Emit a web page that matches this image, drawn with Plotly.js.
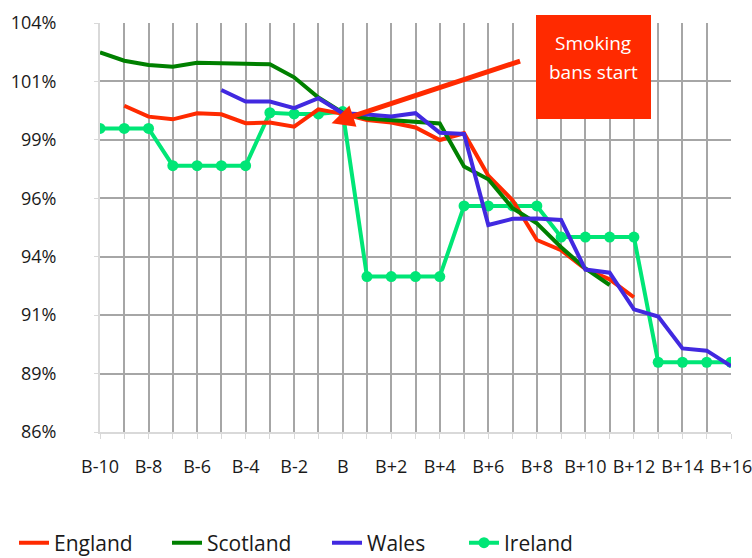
<!DOCTYPE html>
<html><head><meta charset="utf-8">
<script src="https://cdn.plot.ly/plotly-3.0.1.min.js"></script>
<style>html,body{margin:0;padding:0;background:#fff}#chart{width:752px;height:558px}</style>
</head><body><div id="chart"></div>
<script>
const categories = ["B-10","B-9","B-8","B-7","B-6","B-5","B-4","B-3","B-2","B-1","B",
  "B+1","B+2","B+3","B+4","B+5","B+6","B+7","B+8","B+9","B+10","B+11","B+12","B+13","B+14","B+15","B+16"];
const xTickText = ["B-10","","B-8","","B-6","","B-4","","B-2","","B",
  "","B+2","","B+4","","B+6","","B+8","","B+10","","B+12","","B+14","","B+16"];
const yTickVals = [86, 88.571, 91.143, 93.714, 96.286, 98.857, 101.429, 104];
const yTickText = ["86%","89%","91%","94%","96%","99%","101%","104%"];

const england = [null,100.36,99.88,99.76,100.03,99.98,99.59,99.62,99.44,100.2,100.0,
  99.73,99.62,99.4,98.85,99.15,97.28,96.2,94.45,94.0,93.17,92.72,91.93,null,null,null,null];
const scotland = [102.71,102.34,102.15,102.08,102.25,102.25,102.21,102.18,101.61,100.72,100.05,
  99.8,99.73,99.67,99.58,97.68,97.12,95.85,95.18,94.13,93.2,92.47,null,null,null,null,null];
const wales = [null,null,null,null,null,101.05,100.54,100.54,100.25,100.69,100.03,
  99.97,99.89,100.03,99.17,99.12,95.11,95.38,95.4,95.33,93.15,93.01,91.4,91.08,89.68,89.58,88.9];
const ireland = [99.36,99.36,99.36,97.72,97.72,97.72,97.72,100.05,100.0,100.0,100.1,
  92.84,92.84,92.84,92.84,95.95,95.95,95.95,95.95,94.58,94.58,94.58,94.58,89.07,89.07,89.07,89.07];

const font = "Open Sans, sans-serif";
const traces = [
  {name:"Ireland", x:categories, y:ireland, type:"scatter", mode:"lines+markers",
   line:{color:"#00e676", width:4}, marker:{color:"#00e676", size:11}, legend:"legend4"},
  {name:"England", x:categories, y:england, type:"scatter", mode:"lines",
   line:{color:"#ff2a00", width:4}, legend:"legend"},
  {name:"Scotland", x:categories, y:scotland, type:"scatter", mode:"lines",
   line:{color:"#008000", width:4}, legend:"legend2"},
  {name:"Wales", x:categories, y:wales, type:"scatter", mode:"lines",
   line:{color:"#4129e0", width:4}, legend:"legend3"}
];

function leg(xpx){
  return {orientation:"h", x:(xpx-100)/631, xanchor:"left", xref:"paper",
    yref:"container", y:1-543/558, yanchor:"middle",
    font:{size:21, color:"#1a1a1a"}, itemwidth:30, bgcolor:"rgba(0,0,0,0)"};
}

const layout = {
  width:752, height:558,
  margin:{l:100, r:21, t:23, b:126, autoexpand:false},
  paper_bgcolor:"#fff", plot_bgcolor:"#fff",
  font:{family:font, color:"#1a1a1a", size:18},
  showlegend:true,
  xaxis:{type:"category", range:[0,26], tickvals:categories, ticktext:xTickText,
    showgrid:true, gridcolor:"#a6a6a6", gridwidth:2,
    showline:true, linecolor:"#d9d9d9", linewidth:2,
    ticks:"outside", ticklen:5, tickcolor:"#d9d9d9", tickwidth:1,
    tickfont:{size:18}, ticklabelstandoff:12, zeroline:false, fixedrange:true},
  yaxis:{range:[86,104], tickvals:yTickVals, ticktext:yTickText,
    showgrid:true, gridcolor:"#a6a6a6", gridwidth:2,
    showline:true, linecolor:"#d9d9d9", linewidth:2,
    ticks:"outside", ticklen:4, tickcolor:"#d9d9d9", tickwidth:1,
    tickfont:{size:18}, ticklabelstandoff:34, zeroline:false, fixedrange:true},
  legend:leg(14), legend2:leg(167), legend3:leg(327), legend4:leg(464),
  shapes:[
    {type:"rect", xref:"paper", yref:"paper", x0:(536-100)/631, x1:(651-100)/631,
     y0:(432-119)/409, y1:(432-15)/409, fillcolor:"#ff2a00", line:{width:0}, layer:"above"}
  ],
  annotations:[
    {xref:"paper", yref:"paper", x:0.367, y:0.755, ax:190, ay:-62.6, text:"",
     showarrow:true, arrowhead:2, arrowsize:0.9, arrowwidth:5, arrowcolor:"#ff2a00"},
    {xref:"paper", yref:"paper", x:0.782, y:(432-43)/409, xanchor:"center", yanchor:"middle",
     text:"Smoking", showarrow:false, font:{family:font, size:19, color:"#ffffff"}},
    {xref:"paper", yref:"paper", x:0.782, y:(432-72)/409, xanchor:"center", yanchor:"middle",
     text:"bans start", showarrow:false, font:{family:font, size:19, color:"#ffffff"}}
  ]
};

Plotly.newPlot("chart", traces, layout, {displayModeBar:false, staticPlot:true});
</script>
</body></html>
